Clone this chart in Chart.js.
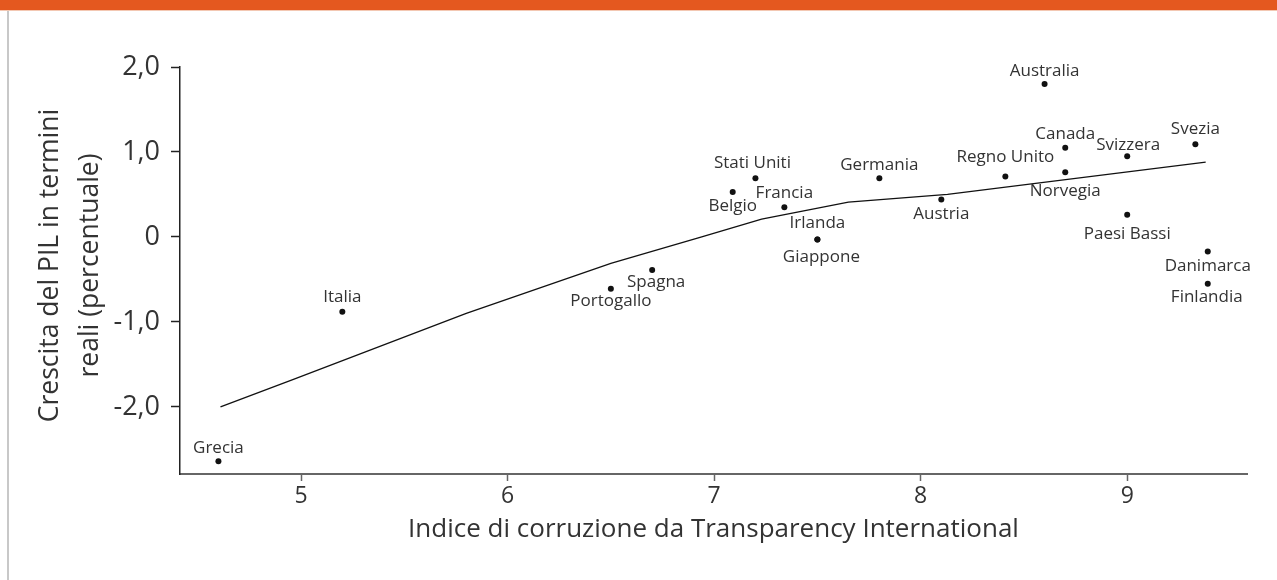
<!DOCTYPE html>
<html lang="it">
<head>
<meta charset="UTF-8">
<title>Corruzione e crescita del PIL</title>
<script src="https://cdn.jsdelivr.net/npm/chart.js"></script>
<style>
  html, body { margin: 0; padding: 0; background: #fff; }
  #wrap { position: relative; width: 1277px; height: 580px; overflow: hidden; }
  #topbar { position: absolute; left: 0; top: 0; width: 1277px; height: 10px; background: #e4581f; border-bottom: 1px solid #f3c8b3; }
  #edge { position: absolute; left: 7px; top: 11px; bottom: 0; width: 2px; background: #c8c8c8; }
  canvas { position: absolute; left: 0; top: 0; }
</style>
</head>
<body>
<div id="wrap">
  <div id="topbar"></div>
  <div id="edge"></div>
  <canvas id="chart" width="1277" height="580"></canvas>
</div>

<script>
  // countries, corruption index (x) and real GDP growth (y)
  const countries = ['Grecia', 'Italia', 'Portogallo', 'Spagna', 'Belgio', 'Stati Uniti', 'Francia',
    'Irlanda', 'Giappone', 'Germania', 'Austria', 'Regno Unito', 'Australia', 'Canada', 'Norvegia',
    'Svizzera', 'Paesi Bassi', 'Svezia', 'Danimarca', 'Finlandia'];
  const cpi = [4.6, 5.2, 6.5, 6.7, 7.09, 7.2, 7.34, 7.5, 7.5, 7.8, 8.1, 8.41, 8.6, 8.7, 8.7,
    9.0, 9.0, 9.33, 9.39, 9.39];
  const growth = [-2.64, -0.88, -0.61, -0.39, 0.53, 0.69, 0.35, -0.03, -0.03, 0.69, 0.44, 0.71, 1.80,
    1.05, 0.76, 0.95, 0.26, 1.09, -0.17, -0.55];

  // fitted curve
  const trendX = [4.61, 4.96, 5.8, 6.5, 6.94, 7.23, 7.65, 8.13, 9.38];
  const trendY = [-2.0, -1.68, -0.9, -0.31, 0.0, 0.21, 0.41, 0.5, 0.88];

  const xTicks = [5, 6, 7, 8, 9];
  const yTicks = [-2, -1, 0, 1, 2];
  const yTickLabels = ['-2,0', '-1,0', '0', '1,0', '2,0'];

  const xTitle = 'Indice di corruzione da Transparency International';
  const yTitle = ['Crescita del PIL in termini', 'reali (percentuale)'];

  // where each name sits relative to its dot (px)
  const labelOffset = {
    'Grecia': [0, -13], 'Italia': [0, -15], 'Portogallo': [0, 12], 'Spagna': [4, 12],
    'Belgio': [0, 14], 'Stati Uniti': [-3, -15], 'Francia': [0, -14], 'Irlanda': [0, -16],
    'Giappone': [4, 18], 'Germania': [0, -13], 'Austria': [0, 15], 'Regno Unito': [0, -19],
    'Australia': [0, -13], 'Canada': [0, -14], 'Norvegia': [0, 19], 'Svizzera': [1, -11],
    'Paesi Bassi': [0, 19], 'Svezia': [0, -15], 'Danimarca': [0, 15], 'Finlandia': [-1, 13]
  };

  const FONT = '"Open Sans", "Noto Sans", sans-serif';
  const TEXT = '#333';

  const labelsPlugin = {
    id: 'labels',
    afterDatasetsDraw(chart) {
      const { ctx, scales: { x, y }, chartArea } = chart;
      ctx.save();
      ctx.fillStyle = TEXT;
      ctx.textAlign = 'center';
      ctx.textBaseline = 'middle';
      ctx.font = '17px ' + FONT;
      countries.forEach((name, i) => {
        const off = labelOffset[name] || [0, -14];
        ctx.fillText(name, x.getPixelForValue(cpi[i]) + off[0], y.getPixelForValue(growth[i]) + off[1]);
      });

      // axis titles
      ctx.font = '26px ' + FONT;
      ctx.fillText(xTitle, (chartArea.left + chartArea.right) / 2, 530);
      ctx.font = '26.5px ' + FONT;
      ctx.translate(0, (chartArea.top + chartArea.bottom) / 2 - 5);
      ctx.rotate(-Math.PI / 2);
      ctx.fillText(yTitle[0], 0, 50);
      ctx.fillText(yTitle[1], 0, 90);
      ctx.restore();
    }
  };

  new Chart(document.getElementById('chart'), {
    type: 'scatter',
    data: {
      datasets: [
        {
          data: cpi.map((v, i) => ({ x: v, y: growth[i] })),
          pointRadius: 3,
          pointBackgroundColor: '#111',
          pointBorderWidth: 0,
          showLine: false
        },
        {
          data: trendX.map((v, i) => ({ x: v, y: trendY[i] })),
          showLine: true,
          borderColor: '#111',
          borderWidth: 1.3,
          pointRadius: 0,
          tension: 0
        }
      ]
    },
    options: {
      responsive: false,
      animation: false,
      devicePixelRatio: 1,
      layout: { padding: { left: 0, top: 67, right: 30, bottom: 0 } },
      plugins: { legend: { display: false }, tooltip: { enabled: false } },
      scales: {
        x: {
          type: 'linear',
          min: 4.414,
          max: 9.58,
          afterBuildTicks: s => { s.ticks = xTicks.map(v => ({ value: v })); },
          afterFit: s => { s.height = 106; s.paddingLeft = 0; s.paddingRight = 0; },
          grid: { drawOnChartArea: false, drawTicks: true, tickLength: 7, tickColor: '#666', tickWidth: 1.5 },
          border: { display: true, color: '#666', width: 2 },
          ticks: { font: { family: FONT, size: 23 }, color: TEXT, padding: 2, callback: v => String(v) }
        },
        y: {
          type: 'linear',
          min: -2.79,
          max: 2.0,
          afterBuildTicks: s => { s.ticks = yTicks.map(v => ({ value: v })); },
          afterFit: s => { s.width = 180; s.paddingTop = 0; s.paddingBottom = 0; },
          grid: { drawOnChartArea: false, drawTicks: true, tickLength: 9, tickColor: '#222', tickWidth: 1.5 },
          border: { display: true, color: '#222', width: 1.5 },
          ticks: { font: { family: FONT, size: 27 }, color: TEXT, padding: 11,
            callback: v => yTickLabels[yTicks.indexOf(v)] }
        }
      }
    },
    plugins: [labelsPlugin]
  });
</script>
</body>
</html>
